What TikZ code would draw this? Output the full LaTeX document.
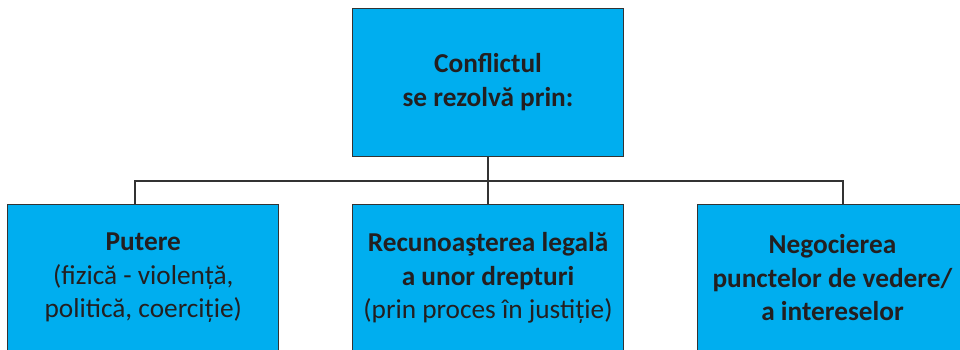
\documentclass[tikz,border=0pt]{standalone}
\usepackage{fontspec}
\setmainfont{Carlito}
\definecolor{boxblue}{HTML}{00AEEF}
\definecolor{txt}{HTML}{231F20}
\definecolor{linec}{HTML}{333333}
\begin{document}
\begin{tikzpicture}[x=1pt,y=-1pt,
  box/.style={draw=linec,line width=1pt,fill=boxblue,text=txt,align=center,
    minimum width=271pt,minimum height=148pt,inner sep=0pt,
    font=\fontsize{27.3}{33.5}\selectfont},
  conn/.style={draw=linec,line width=1.6pt}]
\useasboundingbox (0,0) rectangle (960,349);
\clip (0,0) rectangle (960,349);
\node[box] (top) at (488,82) {\textbf{Conflictul}\\\textbf{se rezolvă prin:}};
\node[box] (left) at (143.3,278) {\textbf{Putere}\\(fizică - violență,\\politică, coerciție)};
\node[box] (mid) at (488,278) {\textbf{Recunoaşterea legală}\\\textbf{a unor drepturi}\\(prin proces în justiție)};
\node[box] (right) at (832.5,278) {\textbf{Negocierea}\\\textbf{punctelor de vedere/}\\\textbf{a intereselor}};
\coordinate (j) at (488,181);
\coordinate (lj) at (135,181);
\coordinate (rj) at (843,181);
\draw[conn] (top.south) -- (mid.north);
\draw[conn] (lj |- left.north) -- (lj) -- (rj) -- (rj |- right.north);
\end{tikzpicture}
\end{document}
